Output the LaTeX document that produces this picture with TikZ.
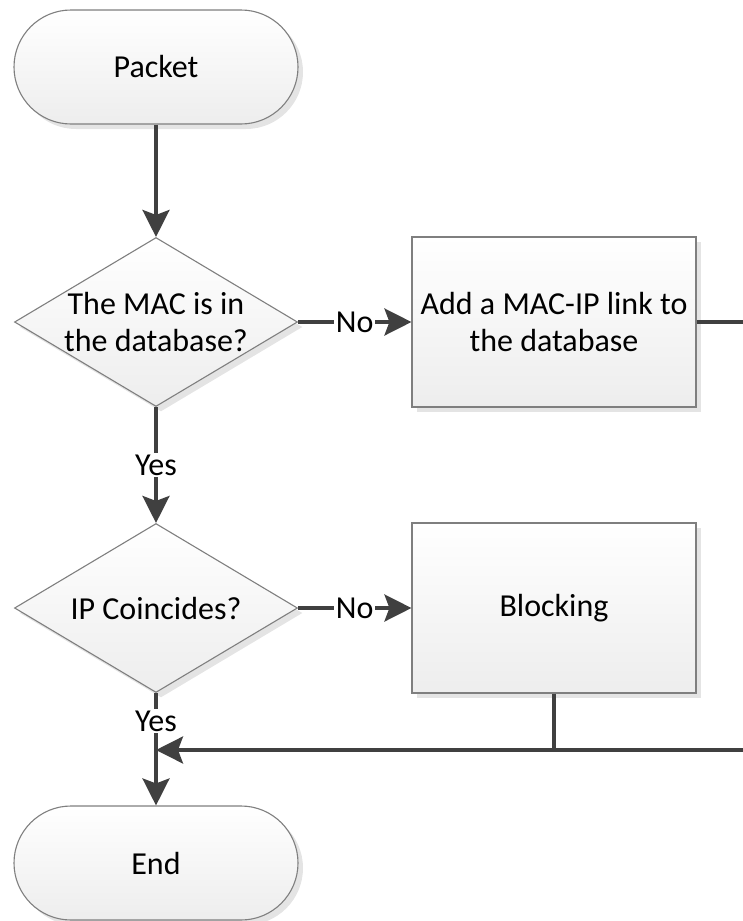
\documentclass[tikz,border=0pt]{standalone}
\usepackage{fontspec}
\setmainfont{Carlito}
\usetikzlibrary{shapes.geometric,arrows.meta,shadows}
\definecolor{connector}{HTML}{404040}
\definecolor{outline}{HTML}{7F7F7F}
\definecolor{shade}{HTML}{E4E4E4}
\tikzset{
  bigfont/.style={font=\fontsize{32}{37.5}\selectfont},
  shapebase/.style={draw=outline, line width=1.1pt, top color=white, bottom color=black!7,
    drop shadow={shadow xshift=5pt, shadow yshift=-5pt, fill=shade, opacity=1},
    inner sep=0pt, bigfont, align=center},
  terminal/.style={shapebase, rectangle, rounded corners=57pt, minimum width=284pt, minimum height=114pt},
  decision/.style={shapebase, diamond, minimum width=283pt, minimum height=169pt},
  process/.style={shapebase, rectangle, minimum width=284pt, minimum height=170pt},
  dtext/.style={bigfont, align=center, inner sep=0pt},
  conn/.style={draw=connector, line width=3.5pt},
  arrow/.style={conn, -{Stealth[length=27pt, width=27pt, inset=5pt]}},
  lbl/.style={fill=white, inner sep=1.5pt, bigfont, text=black}
}
\begin{document}
\begin{tikzpicture}[x=1pt, y=-1pt]
  \useasboundingbox (0,0) rectangle (743,921);

  % flowchart shapes
  \node[terminal] (start) at (156,67) {Packet};
  \node[decision] (d1) at (156,322) {};
  \node[dtext] (d1t) at (d1.center) {The MAC is in\\the database?};
  \node[process] (p1) at (554,322) {Add a MAC-IP link to\\the database};
  \node[decision] (d2) at (156,608) {};
  \node[dtext] (d2t) at (d2.center) {IP Coincides?};
  \node[process] (p2) at (554,608) {Blocking};
  \node[terminal] (stop) at (156,863) {End};

  % junction points
  \coordinate (merge) at (156,750);
  \coordinate (r1) at (743,322);
  \coordinate (r2) at (743,750);
  \coordinate (tee) at (p2.south |- merge);

  % connectors
  \draw[arrow] (start) -- (d1);
  \draw[arrow] (d1.east) -- node[lbl] {No} (p1.west);
  \draw[arrow] (d1) -- node[lbl] {Yes} (d2);
  \draw[arrow] (d2.east) -- node[lbl] {No} (p2.west);
  \draw[conn] (p1.east) -- (r1);
  \draw[conn] (p2.south) -- (tee);
  \draw[arrow] (r2) -- (merge);
  \draw[arrow] (d2) -- node[lbl, pos=0.25] {Yes} (stop);
\end{tikzpicture}
\end{document}
